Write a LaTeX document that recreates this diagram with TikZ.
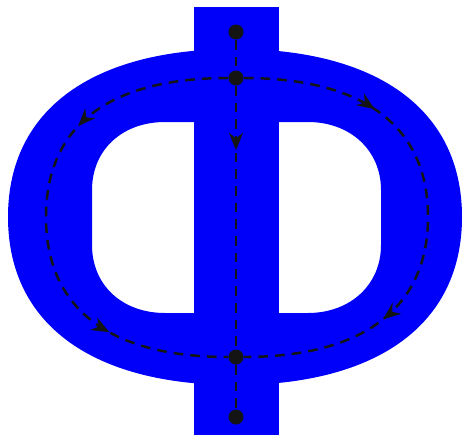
\documentclass[tikz,border=0pt]{standalone}
\usetikzlibrary{arrows.meta,decorations.markings}
\definecolor{glyphblue}{HTML}{0000FA}
\definecolor{inkblack}{HTML}{141414}

\begin{document}
\begin{tikzpicture}[x=0.02cm, y=-0.02cm,
  glyph/.style={fill=glyphblue},
  dot/.style={circle, fill=inkblack, inner sep=0pt, minimum size=0.3cm},
  flow/.style={dash pattern=on 5.5pt off 4pt, line width=1.4pt, draw=inkblack},
  tip at/.style={postaction={decorate, decoration={markings, mark=at position #1 with {\arrow[inkblack]{Stealth[length=10pt, width=8pt]}}}}}
]
\useasboundingbox (0,0) rectangle (467,440);

\fill[glyph, even odd rule]
  (235,49) .. controls (375,49) and (462,108) .. (462,217)
  .. controls (462,326) and (375,385) .. (235,385)
  .. controls (95,385) and (8,326) .. (8,217)
  .. controls (8,108) and (95,49) .. (235,49) -- cycle
  (236,122) -- (308,122) .. controls (350,122) and (381,150) .. (381,190)
  -- (381,245) .. controls (381,285) and (350,313) .. (308,313)
  -- (165,313) .. controls (122,313) and (92,285) .. (92,245)
  -- (92,190) .. controls (92,150) and (122,122) .. (165,122) -- cycle;
\fill[glyph] (194,7) rectangle (279,435);

\node[dot] (src) at (236,32) {};
\node[dot] (fork) at (236,78) {};
\node[dot] (join) at (236,357) {};
\node[dot] (sink) at (236,417) {};
\coordinate (west) at (46,217);
\coordinate (east) at (428,217);

\draw[flow] (src) -- (fork);
\draw[flow, tip at=0.245] (fork) -- (join);
\draw[flow, tip at=0.31, tip at=0.765] (fork) .. controls (110,78) and (46,125) .. (west)
  .. controls (46,309) and (110,357) .. (join);
\draw[flow, tip at=0.26, tip at=0.72] (fork) .. controls (362,78) and (428,125) .. (east)
  .. controls (428,309) and (362,357) .. (join);
\draw[flow] (join) -- (sink);

\end{tikzpicture}
\end{document}
